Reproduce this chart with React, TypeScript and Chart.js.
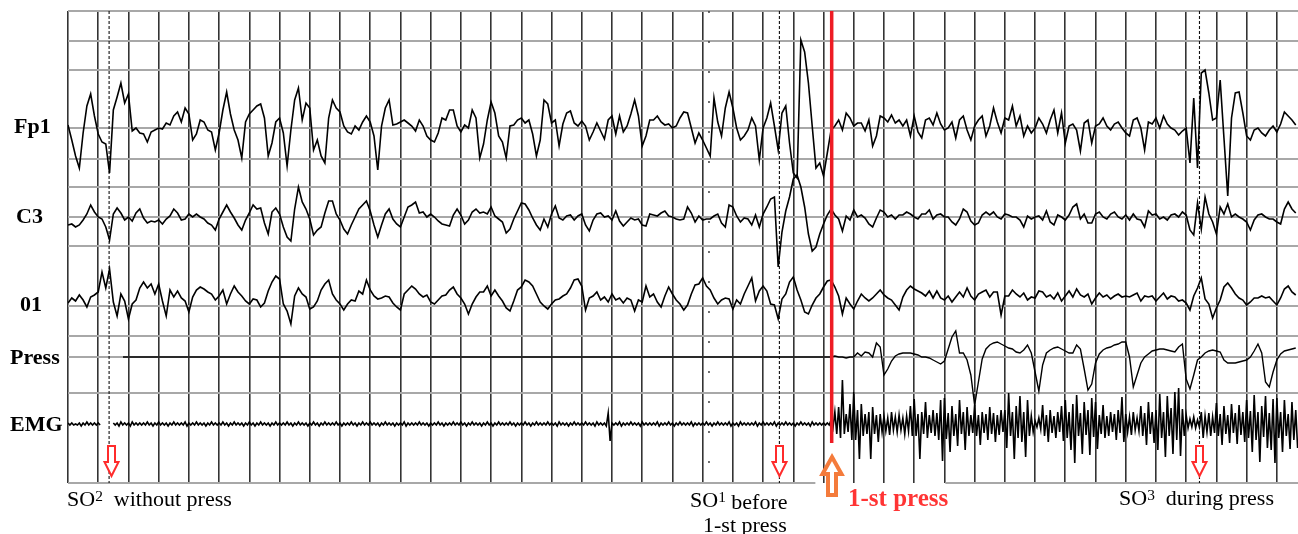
import React, { useEffect, useRef } from "react";
import { Chart, registerables } from "chart.js";

Chart.register(...registerables);

// ---------- time base ----------
const SAMPLES_PER_SECOND = 8;
const TIME_MAX = 40.7;
const gridSeconds = Array.from({ length: 41 }, (_, i) => i);
// horizontal grid rows (vertical units from the top of the record)
const gridRows = [0, 30, 59, 117, 148, 176, 206, 235, 295, 325, 346, 382, 472];
const Y_MAX = 472;

// channel baselines (vertical units from top)
const BASE_FP1 = 117;
const BASE_C3 = 206;
const BASE_O1 = 295;
const BASE_PRESS = 346;
const BASE_EMG = 413;

// events (s)
const eventSO2 = 1.36;
const eventSplice = 21.21;
const eventSO1 = 23.54;
const eventPress = 25.27;
const eventSO3 = 37.44;
const pressTraceStart = 1.82;
const pressSamplesStart = 25;
const redLineEnd = 432;
const bottomGapStart = 24.73;
const bottomGapEnd = 29.03;

// ---------- EEG samples (8 per second, upward positive) ----------
const fp1 = [
  3, -12, -28, -40, -5, 22, 34, 12, -6, -14, -16, -45, 18, 31, 45, 25,
  34, -3, 0, -5, -6, -14, -4, -2, 0, -1, 5, 3, 12, 16, 6, 20,
  14, -12, -6, 8, 6, -2, -4, -22, -5, 18, 36, 14, -2, -12, -30, 6,
  14, 18, 22, 24, 10, -28, -15, 6, 10, -5, -38, -2, 28, 40, 8, 25,
  20, -22, -12, -28, -35, 10, 28, 20, 16, 2, -4, -6, 2, -2, 6, 12,
  6, -8, -42, 2, 20, 28, 3, 4, 6, 8, 5, 2, -3, 8, 2, -8,
  -12, -14, -5, 10, 8, 18, 18, 2, -4, 3, 0, 18, 10, -30, -16, 8,
  26, 15, -8, -14, -30, 2, 3, 8, 10, 5, 8, -6, -28, -12, 28, 24,
  5, 8, -18, 4, 15, 17, 5, 2, 7, 2, -12, -4, 5, -3, -11, 8,
  12, -6, 12, -4, 2, 14, 28, 12, -18, -8, 8, 8, 12, 6, 3, 4,
  0, 2, 10, 16, 15, 0, -15, -5, -12, -20, -28, 30, 6, -8, 20, 36,
  20, 0, -12, -8, -2, 10, 2, -32, 0, 10, 25, 2, -22, 15, 22, -15,
  -45, -50, 88, 76, 45, 2, -40, -35, -48, -25, -2, 2, 8, -2, 15, 10,
  2, 5, 5, -3, 8, -18, -8, 12, 10, 6, 13, 5, 8, 2, 8, -8,
  12, -4, -10, 8, 10, 3, 15, 4, -2, 0, 6, -10, 8, 12, -2, -12,
  2, 8, 12, -8, 2, 20, 6, -5, 10, 8, 22, 2, 12, -8, 2, -5,
  0, 10, 4, -5, 8, 18, -5, 15, -15, 2, 4, -2, -23, 5, 8, -15,
  2, 4, 10, 2, -2, 4, 6, 0, -5, -8, 8, 10, 0, -22, 6, 4,
  10, 0, 12, 4, 0, -2, -7, -3, 0, -35, 30, -40, 55, 58, 35, 8,
  10, 48, -10, -68, 10, 35, 36, 15, -8, -12, -2, 0, -5, -8, -2, 2,
  -4, 4, 16, 12, 8, 3,
];

const c3 = [
  -8, -7, -10, -8, -3, 3, 12, 5, 0, -2, -10, -23, 3, 9, 4, -3,
  0, -4, 4, 8, -1, -6, -4, -5, -3, -7, -2, 1, 8, 4, -3, -2,
  3, 0, 3, 0, -2, -6, -8, -13, -2, 5, 12, 5, -1, -8, -13, -3,
  4, 12, 8, 9, -6, -17, 5, 9, 3, -10, -20, -24, 8, 30, 15, 8,
  -2, -18, -13, -10, 4, 16, 16, 3, -3, -12, -17, -8, 0, 8, 12, 16,
  6, -8, -20, -8, 3, 8, -2, -7, -10, 0, 10, 12, 15, 4, 5, 0,
  3, 0, -4, -7, -8, -9, 2, 8, 2, -7, -3, 5, 8, 4, 5, 3,
  10, 1, -2, -5, -16, -12, -2, 6, 14, 13, 7, -1, -8, -13, -2, -10,
  3, 11, -1, -3, 1, 2, -3, 1, 3, -8, -14, -3, 3, 4, 0, 1,
  -3, 6, -4, -9, -5, -1, -3, -2, -8, -9, 3, 2, 1, 4, 6, 1,
  0, -2, -3, -2, 10, 4, -5, 1, -3, -2, -2, 1, 3, -6, -10, 12,
  10, 1, -5, -1, -2, -8, 2, -10, 3, 10, 18, 20, -50, -15, 6, 20,
  38, 42, 30, 10, -17, -34, -30, -17, -7, 2, 8, 2, -2, -14, 1, -3,
  7, 0, 2, -1, -7, -10, -1, 7, 5, 0, 2, -2, 2, 2, 5, 3,
  0, -2, 3, 3, 7, -2, 2, 3, 0, 0, -5, -8, -2, 8, 5, -4,
  -8, -6, 2, 5, 2, 5, 0, -2, 3, 2, 0, 0, -3, -10, 1, -2,
  0, 1, -3, 6, -5, -8, 2, 0, -3, 2, 10, 13, -2, 3, -6, -6,
  3, 5, 0, -2, 3, 5, 0, -2, 2, -3, 3, -2, -3, -10, 6, 2,
  3, -2, 0, -3, 2, 3, 0, 5, 2, -13, -18, 14, -12, 20, 3, -5,
  -17, 10, 3, 13, 0, 3, 0, -2, -5, -13, -3, 2, 3, 0, -2, -2,
  -5, -7, 8, 15, 8, 4,
];

const o1 = [
  3, 8, 5, 11, 6, -1, 9, 11, 14, 34, 18, 37, 4, -10, 12, 5,
  -13, 2, 6, 18, 24, 18, 22, 12, 22, 5, -10, 16, 9, 15, 8, 5,
  -6, 9, 16, 19, 17, 14, 12, 6, 10, 16, 2, 12, 20, 14, 10, 5,
  2, 7, 6, -1, 3, 15, 24, 30, 27, 2, -5, -18, 10, 18, 12, 9,
  -3, -1, 5, 16, 22, 26, 12, 6, 2, -4, 2, 6, 5, 15, 12, 26,
  16, 10, 7, 8, 10, 9, 3, -1, -4, 12, 16, 20, 17, 12, 9, 11,
  4, 2, 6, 10, 11, 16, 19, 12, 8, 2, -8, 2, 9, 14, 14, 20,
  10, 16, 10, 5, -2, -5, 5, 16, 19, 26, 24, 20, 12, 4, 0, -3,
  2, 6, 7, 10, 12, 18, 26, 27, 20, -4, 8, 10, 14, 6, 9, 4,
  12, 6, 8, 3, 8, 6, -5, 6, 4, 20, 9, 12, 4, -1, 10, 19,
  12, 6, 2, -4, 1, 12, 21, 22, 28, 20, 16, 8, 2, 6, 8, 7,
  -3, 6, 2, 12, 20, 28, 5, 15, 20, 15, 2, 1, -13, 7, 12, 24,
  29, 16, 6, -6, -8, 1, 8, 12, 19, 25, 26, 19, 10, -8, 8, 2,
  -3, 5, 12, 8, 5, 8, 12, 16, 11, 8, 6, 1, -4, 9, 16, 20,
  17, 15, 13, 10, 15, 8, 15, 8, 6, 10, 4, 9, 14, 9, 18, 10,
  6, 12, 14, 16, 9, 14, 14, -9, 10, 10, 16, 12, 9, 13, 6, 9,
  8, 15, 14, 9, 11, 7, 13, 5, 10, 15, 9, 17, 11, 9, 12, 2,
  8, 13, 9, 11, 7, 10, 12, 9, 10, 9, 11, 13, 5, 10, 9, 10,
  5, 9, 13, 7, 10, 9, 5, 6, 3, -4, 10, 18, 28, 7, 2, -12,
  -2, 6, 19, 23, 18, 12, 8, 6, 1, 4, 8, 8, 10, 8, 9, 5,
  1, 8, 17, 20, 14, 11,
];

// pressure channel samples from 25 s onwards
const pressValues = [
  0, 0, 0, 1, 0, 0, -1, 0, 0, 4, 1, 5, 4, 0, 14, 10,
  -18, -12, -4, 1, 3, 4, 4, 4, 3, 2, 0, 0, -1, -3, -5, -7,
  -4, 8, 20, 26, 4, 4, -3, -18, -48, -25, -2, 8, 12, 14, 15, 13,
  11, 9, 8, 5, 4, 7, 12, 4, -15, -34, -8, 4, 7, 9, 10, 8,
  6, 4, 4, 12, 8, -12, -33, -27, -6, 3, 7, 9, 10, 12, 13, 15,
  15, 0, -30, -18, -6, 0, 3, 6, 7, 8, 8, 7, 6, 5, 10, 13,
  -22, -32, -18, -3, 0, 4, 6, 7, 6, 5, -3, -6, -6, -6, -5, -4,
  -3, 0, 6, 13, 4, -25, -30, -15, -3, 3, 6, 7, 8, 9,
];

// EMG: per-bin upper and lower excursion
const emgHigh = [
  1, 1, 0, 1, 1, 2, 1, 1, 1, null, null, null, 1, 1, 2, 1,
  1, 2, 1, 1, 1, 2, 1, 1, 2, 1, 1, 1, 2, 1, 1, 2,
  1, 1, 2, 1, 1, 1, 2, 1, 1, 2, 1, 1, 2, 1, 1, 1,
  2, 1, 1, 2, 1, 1, 1, 2, 1, 1, 2, 1, 1, 2, 1, 1,
  1, 2, 1, 1, 2, 1, 1, 2, 1, 1, 1, 2, 1, 1, 2, 1,
  2, 1, 1, 1, 2, 1, 1, 1, 1, 2, 1, 1, 1, 2, 1, 1,
  1, 1, 2, 1, 1, 1, 2, 1, 2, 1, 1, 2, 1, 1, 1, 2,
  1, 1, 2, 1, 1, 2, 1, 1, 1, 2, 1, 1, 2, 1, 1, 2,
  1, 1, 2, 1, 1, 1, 2, 1, 1, 2, 1, 1, 2, 1, 1, 11,
  1, 1, 2, 1, 1, 2, 1, 1, 2, 1, 1, 1, 2, 1, 1, 2,
  1, 1, 2, 1, 1, 2, 1, 1, 1, 2, 1, 1, 2, 1, 1, 2,
  1, 1, 2, 1, 1, 1, 2, 1, 2, 1, 1, 2, 1, 1, 2, 1,
  1, 1, 2, 1, 1, 2, 1, 1, 1, 1, 4, 12, 17, 44, 10, 20,
  32, 14, 20, 10, 12, 17, 9, 10, 8, 6, 12, 7, 9, 6, 8, 18,
  25, 10, 12, 22, 9, 14, 11, 24, 26, 11, 18, 10, 24, 12, 17, 9,
  19, 9, 12, 10, 17, 11, 9, 14, 14, 31, 12, 18, 28, 12, 24, 8,
  3, 6, 19, 9, 14, 8, 12, 18, 24, 12, 20, 29, 11, 22, 14, 26,
  22, 9, 19, 8, 12, 10, 14, 27, 10, 7, 12, 6, 18, 11, 22, 12,
  14, 30, 12, 28, 16, 32, 36, 15, 9, 5, 7, 4, 12, 8, 11, 7,
  21, 10, 18, 9, 20, 11, 19, 12, 24, 13, 29, 12, 18, 28, 11, 25,
  26, 12, 24, 10, 22, 14,
];

const emgLow = [
  -1, -1, -1, -2, -1, -1, -1, -1, -1, null, null, null, -1, -2, -1, -1,
  -2, -1, -1, -1, -1, -1, -2, -1, -1, -1, -2, -1, -1, -1, -1, -2,
  -1, -1, -1, -1, -2, -1, -1, -1, -1, -1, -2, -1, -1, -1, -2, -1,
  -1, -2, -1, -1, -1, -2, -1, -1, -1, -1, -1, -2, -1, -1, -1, -2,
  -1, -1, -2, -1, -1, -1, -1, -1, -2, -1, -1, -1, -2, -1, -1, -1,
  -1, -1, -2, -1, -1, -1, -2, -1, -1, -2, -1, -1, -1, -1, -1, -2,
  -1, -1, -1, -2, -1, -1, -1, -1, -1, -2, -1, -1, -1, -2, -1, -1,
  -2, -1, -1, -1, -1, -1, -2, -1, -1, -1, -2, -1, -1, -1, -1, -1,
  -1, -2, -1, -1, -2, -1, -1, -1, -1, -1, -1, -2, -1, -1, -2, -17,
  -1, -1, -2, -1, -1, -1, -1, -2, -1, -1, -1, -1, -2, -1, -1, -1,
  -2, -1, -1, -1, -1, -2, -1, -1, -1, -1, -2, -1, -1, -1, -1, -2,
  -1, -2, -1, -1, -1, -1, -2, -1, -1, -1, -1, -2, -1, -1, -1, -1,
  -2, -1, -1, -1, -2, -1, -1, -1, -1, -1, -4, -10, -14, -10, -8, -16,
  -16, -35, -12, -10, -35, -10, -18, -8, -7, -11, -6, -8, -6, -10, -7, -12,
  -12, -35, -10, -14, -9, -12, -16, -37, -15, -28, -12, -22, -10, -26, -12, -9,
  -12, -21, -9, -16, -10, -18, -11, -8, -24, -12, -35, -14, -18, -33, -12, -8,
  -3, -5, -12, -18, -9, -14, -8, -17, -14, -26, -39, -12, -30, -11, -31, -13,
  -25, -10, -14, -12, -8, -16, -9, -18, -8, -11, -6, -7, -12, -21, -10, -19,
  -26, -14, -33, -12, -30, -16, -32, -12, -4, -3, -4, -3, -14, -8, -12, -9,
  -12, -21, -10, -19, -9, -20, -11, -18, -14, -28, -16, -38, -13, -24, -26, -39,
  -14, -28, -12, -25, -16, -24,
];

// ---------- helpers ----------
type Pt = { x: number; y: number | null };

function toPoints(vals: (number | null)[], base: number, t0 = 0): Pt[] {
  return vals.map((v, i) => ({
    x: t0 + i / SAMPLES_PER_SECOND,
    y: v === null ? null : base - v,
  }));
}

function emgPoints(): Pt[] {
  const out: Pt[] = [];
  emgHigh.forEach((h, i) => {
    const t = i / SAMPLES_PER_SECOND;
    const l = emgLow[i];
    out.push({ x: t, y: h === null ? null : BASE_EMG - h });
    out.push({ x: t + 0.5 / SAMPLES_PER_SECOND, y: l === null ? null : BASE_EMG - l });
  });
  return out;
}

function vline(t: number, y0: number, y1: number): Pt[] {
  return [
    { x: t, y: y0 },
    { x: t, y: y1 },
  ];
}

const bottomLinePlugin = {
  id: "bottomLine",
  beforeDatasetsDraw(chart: any) {
    const { ctx, scales, chartArea } = chart;
    const xs = scales.x;
    const y = Math.round(chartArea.bottom);
    ctx.save();
    ctx.strokeStyle = "#a8a8a8";
    ctx.lineWidth = 2;
    ctx.beginPath();
    ctx.moveTo(chartArea.left, y);
    ctx.lineTo(xs.getPixelForValue(bottomGapStart), y);
    ctx.moveTo(xs.getPixelForValue(bottomGapEnd), y);
    ctx.lineTo(chartArea.right, y);
    ctx.stroke();
    ctx.restore();
  },
};

const arrowPlugin = {
  id: "eventArrows",
  afterDatasetsDraw(chart: any) {
    const { ctx, scales, chartArea } = chart;
    const xs = scales.x;
    const bottom = chartArea.bottom;
    ctx.save();
    // hollow red down arrows at SO markers
    [eventSO2 + 0.05, eventSO1, eventSO3].forEach((t) => {
      const cx = Math.round(xs.getPixelForValue(t)) + 0.5;
      const top = bottom - 37;
      ctx.beginPath();
      ctx.moveTo(cx - 3.5, top);
      ctx.lineTo(cx + 3.5, top);
      ctx.lineTo(cx + 3.5, top + 16);
      ctx.lineTo(cx + 7, top + 16);
      ctx.lineTo(cx, top + 30);
      ctx.lineTo(cx - 7, top + 16);
      ctx.lineTo(cx - 3.5, top + 16);
      ctx.closePath();
      ctx.fillStyle = "#ffffff";
      ctx.fill();
      ctx.strokeStyle = "#ff2b2b";
      ctx.lineWidth = 2;
      ctx.stroke();
    });
    // hollow orange up arrow at first press
    const px = Math.round(xs.getPixelForValue(eventPress));
    const tip = bottom - 26;
    ctx.beginPath();
    ctx.moveTo(px, tip);
    ctx.lineTo(px + 9.5, tip + 17);
    ctx.lineTo(px + 4, tip + 17);
    ctx.lineTo(px + 4, tip + 38);
    ctx.lineTo(px - 4, tip + 38);
    ctx.lineTo(px - 4, tip + 17);
    ctx.lineTo(px - 9.5, tip + 17);
    ctx.closePath();
    ctx.fillStyle = "#ffffff";
    ctx.fill();
    ctx.strokeStyle = "#f47b3b";
    ctx.lineWidth = 4;
    ctx.lineJoin = "miter";
    ctx.stroke();
    ctx.restore();
  },
};

const FONT = '"Liberation Serif", "Times New Roman", serif';

const channelLabels = [
  { text: "Fp1", left: 14, top: 115 },
  { text: "C3", left: 16, top: 205 },
  { text: "01", left: 20, top: 293 },
  { text: "Press", left: 10, top: 346 },
  { text: "EMG", left: 10, top: 413 },
];

export default function App() {
  const ref = useRef<HTMLCanvasElement>(null);

  useEffect(() => {
    if (!ref.current) return;
    const trace = (data: Pt[], width = 1.3, color = "#111111") => ({
      data,
      borderColor: color,
      borderWidth: width,
      pointRadius: 0,
      tension: 0,
      spanGaps: false,
      fill: false,
    });
    const chart = new Chart(ref.current, {
      type: "line",
      data: {
        datasets: [
          trace(vline(eventPress, 0, redLineEnd), 3.5, "#ee1c24"),
          trace(toPoints(fp1, BASE_FP1), 1.6, "#000000"),
          trace(toPoints(c3, BASE_C3), 1.6, "#000000"),
          trace(toPoints(o1, BASE_O1), 1.6, "#000000"),
          trace(
            [{ x: pressTraceStart, y: BASE_PRESS }, ...toPoints(pressValues, BASE_PRESS, pressSamplesStart)],
            1.4,
            "#000000"
          ),
          trace(emgPoints(), 1.6, "#000000"),
          { ...trace(vline(eventSO2, 0, Y_MAX), 1.1, "#111111"), borderDash: [3, 2] },
          { ...trace(vline(eventSO1, 0, Y_MAX), 1.1, "#111111"), borderDash: [3, 2] },
          { ...trace(vline(eventSO3, 0, Y_MAX), 1.1, "#111111"), borderDash: [3, 2] },
          { ...trace(vline(eventSplice, 0, Y_MAX), 1.4, "#333333"), borderDash: [2, 28] },
        ] as any,
      },
      options: {
        animation: false,
        responsive: false,
        maintainAspectRatio: false,
        devicePixelRatio: 1,
        events: [],
        layout: { padding: { left: 68, top: 11, right: 0, bottom: 51 }, autoPadding: false },
        plugins: {
          legend: { display: false },
          tooltip: { enabled: false },
          title: { display: false },
        },
        elements: { point: { radius: 0 }, line: { tension: 0 } },
        scales: {
          x: {
            type: "linear",
            min: 0,
            max: TIME_MAX,
            afterBuildTicks: (scale: any) => {
              scale.ticks = gridSeconds.map((v) => ({ value: v }));
            },
            ticks: { display: false },
            grid: { color: "#333333", lineWidth: 1.6, drawTicks: false },
            border: { display: false },
          },
          y: {
            type: "linear",
            min: 0,
            max: Y_MAX,
            reverse: true,
            afterBuildTicks: (scale: any) => {
              scale.ticks = gridRows.map((v) => ({ value: v }));
            },
            ticks: { display: false },
            grid: {
              color: (c: any) => (c.tick && c.tick.value === Y_MAX ? "rgba(0,0,0,0)" : "#a8a8a8"),
              lineWidth: 2,
              drawTicks: false,
            },
            border: { display: false },
          },
        },
      } as any,
      plugins: [bottomLinePlugin, arrowPlugin],
    });
    return () => chart.destroy();
  }, []);

  const sup = (s: string) => (
    <span style={{ fontSize: "0.7em", position: "relative", top: "-0.33em" }}>{s}</span>
  );

  return (
    <div
      style={{
        position: "absolute",
        left: 0,
        top: 0,
        width: 1298,
        height: 534,
        background: "#ffffff",
        overflow: "hidden",
        fontFamily: FONT,
        color: "#000",
      }}
    >
      <canvas
        ref={ref}
        width={1298}
        height={534}
        style={{ position: "absolute", left: 0, top: 0, width: 1298, height: 534 }}
      />
      {channelLabels.map((l) => (
        <div
          key={l.text}
          style={{
            position: "absolute",
            left: l.left,
            top: l.top,
            fontSize: 22,
            fontWeight: "bold",
            lineHeight: 1,
            whiteSpace: "nowrap",
          }}
        >
          {l.text}
        </div>
      ))}
      <div style={{ position: "absolute", left: 67, top: 488, fontSize: 22, lineHeight: 1, whiteSpace: "nowrap" }}>
        SO{sup("2")}{"\u00a0 "}without press
      </div>
      <div style={{ position: "absolute", left: 690, top: 489, fontSize: 22, lineHeight: 1, whiteSpace: "nowrap" }}>
        SO{sup("1")} <span style={{ position: "relative", top: 2 }}>before</span>
      </div>
      <div style={{ position: "absolute", left: 703, top: 514, fontSize: 22, lineHeight: 1, whiteSpace: "nowrap" }}>
        1-st press
      </div>
      <div
        style={{
          position: "absolute",
          left: 848,
          top: 485,
          fontSize: 25,
          fontWeight: "bold",
          lineHeight: 1,
          color: "#ff3434",
          whiteSpace: "nowrap",
        }}
      >
        1-st press
      </div>
      <div style={{ position: "absolute", left: 1119, top: 487, fontSize: 22, lineHeight: 1, whiteSpace: "nowrap" }}>
        SO{sup("3")}{"\u00a0 "}during press
      </div>
    </div>
  );
}
